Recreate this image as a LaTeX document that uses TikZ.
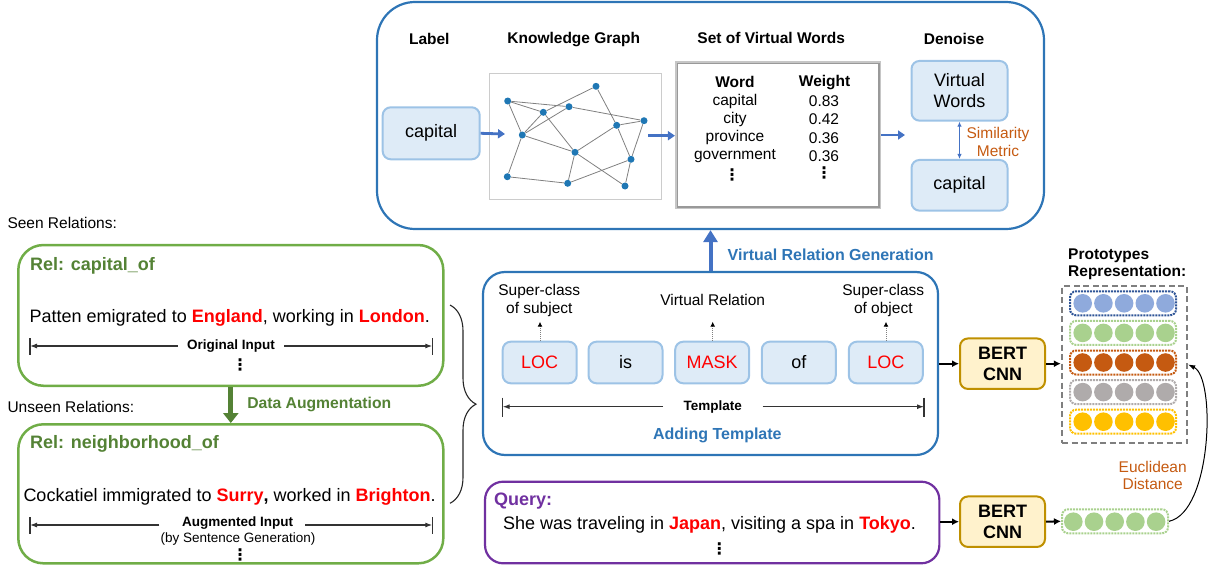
\documentclass[tikz,border=0pt]{standalone}
\usepackage{fontspec}
\setmainfont{Liberation Sans}
\newfontfamily\djv{DejaVu Sans}
\usetikzlibrary{arrows.meta,decorations.pathreplacing,calc}

\definecolor{bluebd}{HTML}{2E75B6}
\definecolor{bluearr}{HTML}{4472C4}
\definecolor{lbfill}{HTML}{DEEBF7}
\definecolor{lbdraw}{HTML}{9DC3E6}
\definecolor{grnbd}{HTML}{70AD47}
\definecolor{grntx}{HTML}{548235}
\definecolor{redtx}{HTML}{FF0000}
\definecolor{purp}{HTML}{7030A0}
\definecolor{goldbd}{HTML}{BF9000}
\definecolor{goldfill}{HTML}{FFF2CC}
\definecolor{orng}{HTML}{C55A11}
\definecolor{gdash}{HTML}{7F7F7F}
\definecolor{kgnode}{HTML}{1F77B4}
\definecolor{rowA}{HTML}{8FAADC}
\definecolor{rowAd}{HTML}{2F5597}
\definecolor{rowB}{HTML}{A9D18E}
\definecolor{rowC}{HTML}{C55A11}
\definecolor{rowD}{HTML}{AFABAB}
\definecolor{rowE}{HTML}{FFC000}

\newcommand\fsL{\fontsize{18}{21.5}\selectfont}
\newcommand\fsM{\fontsize{15.5}{18}\selectfont}
\newcommand\fsS{\fontsize{13.5}{16}\selectfont}
\newcommand\vd{{\djv\bfseries\fontsize{16}{16}\selectfont ⋮}}

\tikzset{
  bigblue/.style={draw=bluebd, line width=2.2pt, inner sep=0pt},
  lbox/.style={draw=lbdraw, fill=lbfill, line width=2pt, rounded corners=8pt, font=\fsL, align=center, inner sep=0pt},
  hdr/.style={font=\fsM\bfseries},
  bluearrow/.style={draw=bluearr, line width=2.8pt, -{Triangle[width=9pt,length=7pt]}},
  kgn/.style={circle, fill=kgnode, inner sep=0pt, minimum size=7pt},
  kge/.style={draw=gray, line width=0.8pt},
  gbox/.style={draw=grnbd, line width=2.5pt, rounded corners=25pt, inner sep=0pt},
  dimarr/.style={draw=black!80, line width=1.1pt, -{Latex[length=7pt,width=5pt]}},
  dimtick/.style={draw=black!80, line width=1.1pt},
  dotarr/.style={draw=gray, densely dotted, line width=1pt, -{Latex[length=5pt,width=5pt,color=black]}},
  bert/.style={draw=goldbd, fill=goldfill, line width=2pt, rounded corners=8pt, minimum width=85pt, minimum height=50.5pt, font=\fontsize{18}{21.5}\selectfont\bfseries, align=center, inner sep=0pt},
  blkarr/.style={draw=black, line width=2pt, -{Latex[length=7pt,width=7pt]}},
  dot/.style={circle, inner sep=0pt, minimum size=18.6pt},
  rowbox/.style={densely dotted, line width=2pt, rounded corners=6pt, minimum width=106pt, minimum height=24pt, inner sep=0pt},
  vdn/.style={inner sep=0pt}
}

\begin{document}
\begin{tikzpicture}[x=1pt,y=-1pt]
\useasboundingbox (0,0) rectangle (1213,570);

% ================= top box =================
\node[bigblue, rounded corners=38pt, minimum width=667pt, minimum height=227pt] (top) at (710.5,115.5) {};
\node[hdr] (hLabel) at (429.3,39) {Label};
\node[hdr] (hKG) at (573.7,40) {Knowledge Graph};
\node[hdr] (hVW) at (771.2,38) {Set of Virtual Words};
\node[hdr] (hDen) at (954,39) {Denoise};

\node[lbox, minimum width=97pt, minimum height=52pt] (cap1) at (431.2,133.3) {capital};

% knowledge graph
\node[draw=gray!40, line width=0.8pt, minimum width=172pt, minimum height=126pt, inner sep=0pt] (kgbox) at (575.5,136.3) {};
\node[kgn] (A) at (507.7,101) {};
\node[kgn] (B) at (596,86.3) {};
\node[kgn] (C) at (543.3,112.3) {};
\node[kgn] (D) at (569,106.7) {};
\node[kgn] (E) at (522.3,135) {};
\node[kgn] (F) at (616.7,125.3) {};
\node[kgn] (G) at (644,120.7) {};
\node[kgn] (H) at (575,152.3) {};
\node[kgn] (I) at (631,159.3) {};
\node[kgn] (J) at (507.3,176.7) {};
\node[kgn] (K) at (567.7,183.3) {};
\node[kgn] (L) at (625,186) {};
\foreach \u/\v in {A/C,A/D,A/E,B/C,B/F,C/E,C/H,D/E,D/G,E/H,E/J,F/G,F/H,F/I,G/I,H/K,H/L,I/K,I/L,J/K}
  \draw[kge] (\u) -- (\v);

\coordinate (a1e) at (505,134);
\draw[bluearrow] (cap1.east) -- (a1e);

% table
\node[draw=gray!45, line width=3.5pt, minimum width=202.6pt, minimum height=144.6pt, inner sep=0pt] (tbl) at (778,135) {};
\draw[draw=gray!80, line width=1.3pt] ($(tbl.south west)+(2.2,-2.2)$) rectangle ($(tbl.north east)+(-2.2,2.2)$);
\coordinate (a2s) at (648,135.7);
\draw[bluearrow] (a2s) -- (tbl.west |- a2s);
\node[font=\fsM\bfseries] (tW) at (735,82.3) {Word};
\node[font=\fsM\bfseries] (tWt) at (824.6,82.3) {Weight};
\node[font=\fsM] (w1) at (735,101) {capital};
\node[font=\fsM] (v1) at (824,101) {0.83};
\node[font=\fsM] (w2) at (735,119.3) {city};
\node[font=\fsM] (v2) at (824,119.3) {0.42};
\node[font=\fsM] (w3) at (735,137.7) {province};
\node[font=\fsM] (v3) at (824,137.7) {0.36};
\node[font=\fsM] (w4) at (735,155.7) {government};
\node[font=\fsM] (v4) at (824,155.7) {0.36};
\node[vdn] (w5) at (732,175) {\vd};
\node[vdn] (v5) at (824,173) {\vd};

% denoise
\node[lbox, minimum width=96pt, minimum height=59.7pt] (vw) at (959.5,90.8) {Virtual\\Words};
\node[lbox, minimum width=96pt, minimum height=50.7pt] (cap2) at (959.5,185.3) {capital};
\coordinate (a3e) at (905,135);
\draw[bluearrow] (tbl.east |- a3e) -- (a3e);
\draw[draw=bluearr, line width=1.1pt, {Latex[length=5pt,width=4.5pt]}-{Latex[length=5pt,width=4.5pt]}] (vw.south) -- (cap2.north);
\node[font=\fsM, text=orng, align=center] (sim) at (998,142) {Similarity\\Metric};

% ================= template box =================
\node[bigblue, rounded corners=22pt, minimum width=455pt, minimum height=183pt] (tmpl) at (710.5,363.5) {};
\draw[draw=bluearr, line width=4pt, -{Triangle[width=14pt,length=12pt]}] (tmpl.north) -- (top.south);
\node[font=\fontsize{16}{19}\selectfont\bfseries, text=bluebd] (vrg) at (830.7,254.3) {Virtual Relation Generation};

\node[lbox, minimum width=74pt, minimum height=41.6pt, text=redtx] (t1) at (539.7,362.5) {LOC};
\node[lbox, minimum width=74pt, minimum height=41.6pt] (t2) at (625.5,362.5) {is};
\node[lbox, minimum width=74pt, minimum height=41.6pt, text=redtx] (t3) at (712.2,362.5) {MASK};
\node[lbox, minimum width=74pt, minimum height=41.6pt] (t4) at (798.8,362.5) {of};
\node[lbox, minimum width=74pt, minimum height=41.6pt, text=redtx] (t5) at (885.8,362.5) {LOC};

\node[font=\fsM, align=center] (s1) at (539.3,300) {Super-class\\of subject};
\node[font=\fsM, align=center] (s3) at (712.7,300) {Virtual Relation};
\node[font=\fsM, align=center] (s5) at (883.3,300) {Super-class\\of object};
\coordinate (d1) at (540,321.7);
\coordinate (d3) at (712.7,321.7);
\coordinate (d5) at (886,321.7);
\draw[dotarr] (t1.north -| d1) -- (d1);
\draw[dotarr] (t3.north -| d3) -- (d3);
\draw[dotarr] (t5.north -| d5) -- (d5);

\node[font=\fontsize{13.5}{16}\selectfont\bfseries] (tlab) at (712.7,407.3) {Template};
\coordinate (tl) at (502.7,406.7);
\coordinate (tr) at (924,406.7);
\coordinate (tgl) at (663,406.7);
\coordinate (tgr) at (762.7,406.7);
\draw[dimarr] (tgl) -- (tl);
\draw[dimarr] (tgr) -- (tr);
\draw[dimtick] ($(tl)+(0,-9)$) -- ($(tl)+(0,10)$);
\draw[dimtick] ($(tr)+(0,-9)$) -- ($(tr)+(0,10)$);
\node[font=\fontsize{16}{19}\selectfont\bfseries, text=bluebd] (addt) at (717.3,435.7) {Adding Template};

% ================= left side =================
\node[font=\fsM, anchor=west, inner sep=0pt] (seen) at (7.3,223.3) {Seen Relations:};
\node[font=\fsM, anchor=west, inner sep=0pt] (unseen) at (7.3,406.7) {Unseen Relations:};

\node[gbox, minimum width=425pt, minimum height=140.7pt] (g1) at (230.8,315.4) {};
\node[font=\fsL\bfseries, text=grntx, anchor=west, inner sep=0pt] (r1) at (30,266) {Rel: capital\_of};
\node[font=\fsL, anchor=west, inner sep=0pt] (sent1) at (29.5,318.3) {Patten emigrated to \textbf{\textcolor{redtx}{England}}, working in \textbf{\textcolor{redtx}{London}}.};
\node[font=\fontsize{13.5}{16}\selectfont\bfseries] (oi) at (231,346) {Original Input};
\coordinate (o1) at (30,346);
\coordinate (o2) at (432.3,346);
\coordinate (og1) at (177.7,346);
\coordinate (og2) at (284,346);
\draw[dimarr] (og1) -- (o1);
\draw[dimarr] (og2) -- (o2);
\draw[dimtick] ($(o1)+(0,-8)$) -- ($(o1)+(0,9)$);
\draw[dimtick] ($(o2)+(0,-8)$) -- ($(o2)+(0,9)$);
\node[vdn] (vd1) at (240,365) {\vd};

\node[gbox, minimum width=425pt, minimum height=139pt] (g2) at (230.8,493.8) {};
\draw[draw=grntx, line width=5pt, -{Triangle[width=15pt,length=10pt]}] (g1.south) -- (g2.north);
\node[font=\fontsize{15.7}{18}\selectfont\bfseries, text=grntx] (da) at (319.3,404.3) {Data Augmentation};
\node[font=\fsL\bfseries, text=grntx, anchor=west, inner sep=0pt] (r2) at (30,444.3) {Rel: neighborhood\_of};
\node[font=\fsL, anchor=west, inner sep=0pt] (sent2) at (23.3,496.7) {Cockatiel immigrated to \textbf{\textcolor{redtx}{Surry},} worked in \textbf{\textcolor{redtx}{Brighton}}.};
\node[font=\fontsize{13.5}{16}\selectfont\bfseries] (ai) at (237.7,523.3) {Augmented Input};
\node[font=\fsS] (bsg) at (238,539) {(by Sentence Generation)};
\coordinate (u1) at (30,525);
\coordinate (u2) at (432.3,525);
\coordinate (ug1) at (159.3,525);
\coordinate (ug2) at (305,525);
\draw[dimarr] (ug1) -- (u1);
\draw[dimarr] (ug2) -- (u2);
\draw[dimtick] ($(u1)+(0,-8)$) -- ($(u1)+(0,9)$);
\draw[dimtick] ($(u2)+(0,-8)$) -- ($(u2)+(0,9)$);
\node[vdn] (vd2) at (240,555) {\vd};

\coordinate (bt) at (450,305);
\coordinate (bb) at (450,503.3);
\draw[decorate, decoration={brace, amplitude=26pt}, line width=1.1pt, black!85] (bt) -- (bb);

% ================= query =================
\node[draw=purp, line width=2.2pt, rounded corners=18pt, minimum width=454.3pt, minimum height=81.6pt, inner sep=0pt] (query) at (712.2,522.5) {};
\node[font=\fsL\bfseries, text=purp, anchor=west, inner sep=0pt] (ql) at (494,501) {Query:};
\node[font=\fsL] (qs) at (709.5,525) {She was traveling in \textbf{\textcolor{redtx}{Japan}}, visiting a spa in \textbf{\textcolor{redtx}{Tokyo}}.};
\node[vdn] (vd3) at (719.3,548.5) {\vd};

% ================= BERT + prototypes =================
\node[bert] (bert1) at (1002.5,363.7) {BERT\\CNN};
\node[bert] (bert2) at (1002.5,521.7) {BERT\\CNN};
\draw[blkarr] (tmpl.east |- bert1) -- (bert1.west);
\draw[blkarr] (query.east |- bert2) -- (bert2.west);

\node[font=\fontsize{15.5}{17}\selectfont\bfseries, anchor=west, align=left, inner sep=0pt] (ptitle) at (1068,264.5) {Prototypes\\Representation:};
\node[draw=gdash, dash pattern=on 6pt off 3.5pt, line width=2.3pt, minimum width=125pt, minimum height=157pt, inner sep=0pt] (proto) at (1124.5,364.5) {};
\draw[blkarr] (bert1.east) -- (proto.west |- bert1);

\foreach \i/\fc/\dc in {1/rowA/rowAd,2/rowB/rowB,3/rowC/rowC,4/rowD/rowD,5/rowE/rowE}{
  \pgfmathsetmacro{\yy}{303.3+29.6*(\i-1)}
  \node[rowbox, draw=\dc] (row\i) at (1123,\yy) {};
  \foreach \j in {0,...,4}{
    \pgfmathsetmacro{\xx}{1082.7+20.7*\j}
    \node[dot, fill=\fc] (p\i\j) at (\xx,\yy) {};
  }
}

\node[rowbox, draw=rowB] (qv) at (1115,521.3) {};
\foreach \j in {0,...,4}{
  \pgfmathsetmacro{\xx}{1073.3+20.7*\j}
  \node[dot, fill=rowB] (q\j) at (\xx,521.7) {};
}
\draw[blkarr] (bert2.east) -- (qv.west);
\draw[line width=1pt, -{Latex[length=7pt,width=5pt]}] (qv.east) .. controls (1212,512) and (1216,378) .. (proto.east);
\node[font=\fontsize{15.5}{17.6}\selectfont, text=orng, align=center] (eu) at (1152.7,475.5) {Euclidean\\Distance};

\end{tikzpicture}
\end{document}
